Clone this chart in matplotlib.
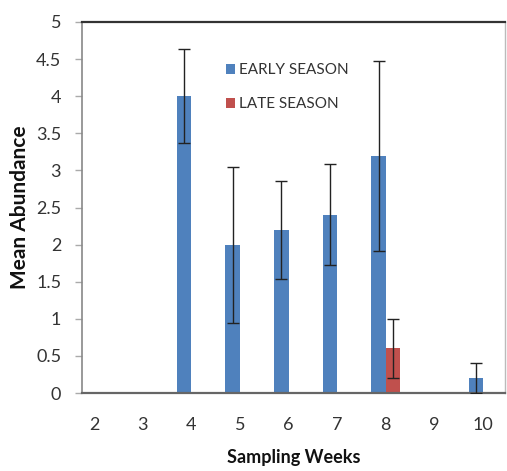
import matplotlib
matplotlib.use("Agg")
import matplotlib.pyplot as plt
import numpy as np

weeks = [2, 3, 4, 5, 6, 7, 8, 9, 10]
early = [0, 0, 4.0, 2.0, 2.2, 2.4, 3.2, 0, 0.2]
early_err = [0, 0, 0.63, 1.05, 0.66, 0.68, 1.28, 0, 0.2]
late = [0, 0, 0, 0, 0, 0, 0.6, 0, 0]
late_err = [0, 0, 0, 0, 0, 0, 0.4, 0, 0]

plt.rcParams['font.family'] = ['Lato', 'DejaVu Sans']

fig = plt.figure(figsize=(5.07, 4.71), dpi=100)
ax = fig.add_axes([82/507, 1-393/471, 423/507, (393-22)/471])

x = np.array(weeks, dtype=float)
w = 0.3
blue = '#4F81BD'
red = '#C0504D'
ax.bar(x - w/2, early, width=w, color=blue, label='EARLY SEASON', zorder=2)
ax.bar(x + w/2, late, width=w, color=red, label='LATE SEASON', zorder=2)

e = np.array(early); ee = np.array(early_err)
m = ee > 0
ax.errorbar(x[m] - w/2, e[m], yerr=ee[m], fmt='none', ecolor='#222222',
            elinewidth=1, capsize=4, capthick=1, zorder=3)
l = np.array(late); le = np.array(late_err)
m2 = le > 0
ax.errorbar(x[m2] + w/2, l[m2], yerr=le[m2], fmt='none', ecolor='#222222',
            elinewidth=1, capsize=4, capthick=1, zorder=3)

ax.set_xlim(1.755, 10.45)
ax.set_ylim(0, 5)
ax.set_yticks(np.arange(0, 5.01, 0.5))
ax.set_yticklabels(['0', '0.5', '1', '1.5', '2', '2.5', '3', '3.5', '4', '4.5', '5'])
ax.set_xticks(weeks)
ax.set_xticklabels([str(v) for v in weeks])

ax.tick_params(axis='y', length=5, width=1, color='#aaaaaa', pad=10, labelsize=13, labelcolor='#333333')
ax.tick_params(axis='x', length=0, pad=17, labelsize=13, labelcolor='#333333')

ax.spines['top'].set_color('#333333')
ax.spines['top'].set_linewidth(1.6)
ax.spines['bottom'].set_color('#666666')
ax.spines['bottom'].set_linewidth(1.6)
ax.spines['left'].set_color('#888888')
ax.spines['left'].set_linewidth(1.2)
ax.spines['right'].set_color('#bbbbbb')
ax.spines['right'].set_linewidth(1.0)

ax.set_ylabel('Mean Abundance', fontsize=15, fontweight='bold', color='#111111', labelpad=4)
ax.set_xlabel('Sampling Weeks', fontsize=13, fontweight='bold', color='#111111', labelpad=12)

leg = ax.legend(loc='upper left', bbox_to_anchor=(0.325, 0.905), frameon=False,
                fontsize=11, labelspacing=1.3, handlelength=0.6, handleheight=0.6,
                handletextpad=0.3, borderaxespad=0)
for t in leg.get_texts():
    t.set_color('#333333')

fig.savefig('out.png', dpi=100)
